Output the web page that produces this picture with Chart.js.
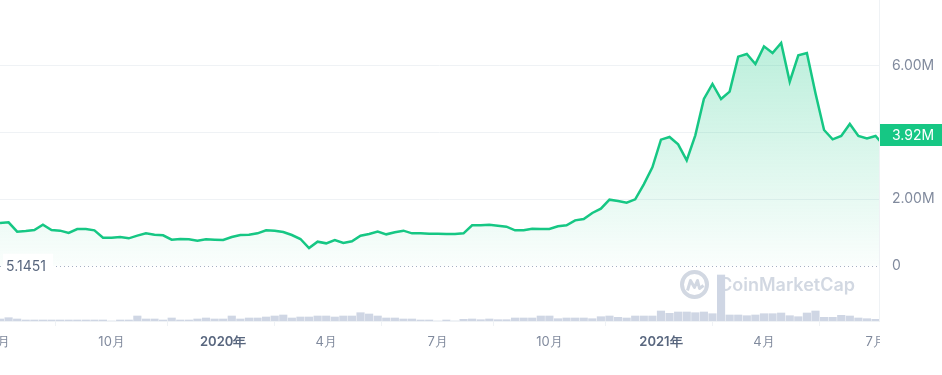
<!DOCTYPE html>
<html>
<head>
<meta charset="utf-8">
<script src="https://cdn.jsdelivr.net/npm/chart.js@4.4.0/dist/chart.umd.min.js"></script>
<style>
  html, body { margin: 0; padding: 0; background: #fff; }
</style>
</head>
<body>
<canvas id="canvas" width="942" height="375"></canvas>
<script>
// weekly price in millions, Jul 2019 -> Jul 2021
var prices = [
  1.28, 1.30, 1.02, 1.04, 1.07, 1.23, 1.07, 1.05, 0.98, 1.10,
  1.10, 1.06, 0.84, 0.84, 0.86, 0.82, 0.90, 0.97, 0.93, 0.91,
  0.78, 0.80, 0.79, 0.75, 0.79, 0.78, 0.77, 0.86, 0.92, 0.93,
  0.97, 1.06, 1.05, 1.01, 0.92, 0.80, 0.53, 0.72, 0.67, 0.77,
  0.68, 0.73, 0.90, 0.95, 1.02, 0.94, 1.00, 1.05, 0.97, 0.97,
  0.96, 0.96, 0.95, 0.95, 0.97, 1.21, 1.21, 1.23, 1.20, 1.17,
  1.06, 1.06, 1.11, 1.10, 1.10, 1.18, 1.21, 1.36, 1.40, 1.58,
  1.71, 1.98, 1.94, 1.89, 1.99, 2.44, 2.95, 3.78, 3.86, 3.64,
  3.16, 3.91, 5.00, 5.45, 5.00, 5.22, 6.27, 6.35, 6.05, 6.58,
  6.38, 6.68, 5.52, 6.31, 6.38, 5.17, 4.07, 3.79, 3.89, 4.25,
  3.89, 3.82, 3.89, 3.60
];
// weekly volume (relative units)
var volumes = [
  2, 3.3, 2, 1, 1, 1, 1, 1, 1, 1,
  1, 1, 1, 0, 1, 1, 5, 2, 2, 1,
  3, 1, 1, 2, 3, 2, 2, 5, 2, 3,
  3, 4, 5, 6, 3, 4, 4, 5, 5, 4,
  5, 5, 8.3, 7, 5, 3, 3, 2, 2, 1,
  1, 0, 1, 0, 1.7, 2, 1.3, 2, 1.3, 1.3,
  3, 3, 3, 5, 5, 2.3, 3, 3, 3, 2.3,
  4.3, 5, 3.7, 3, 5, 5, 5, 10, 7.7, 9,
  9, 8.3, 9, 7.3, 46, 6, 6, 5.3, 6, 7.3,
  7.3, 8, 5.3, 4.3, 8, 10, 3.7, 3.7, 5.7, 5,
  3, 2.3, 1.7, 1
];
var tickIdx = [0, 13, 26, 38, 51, 64, 77, 89, 102];
var tickLabels = ['7月', '10月', '2020年', '4月', '7月', '10月', '2021年', '4月', '7月'];
var yTicks = [0, 2, 4, 6];
var lastPrice = 3.92;
var lowLabel = '5.1451';

var green = '#16c784';
var faint = '#eff2f5';

var lineData = prices.map(function(v, i) { return { x: i, y: v }; });
var volData = volumes.map(function(v, i) { return { x: i, y: v }; });

function isYear(ctx) {
  var lbl = ctx && ctx.tick && ctx.tick.label;
  return typeof lbl === 'string' && lbl.indexOf('年') >= 0;
}

function areaFill(context) {
  var chart = context.chart, a = chart.chartArea;
  if (!a) return 'rgba(22,199,132,0.1)';
  var g = chart.ctx.createLinearGradient(0, a.top, 0, chart.scales.y.getPixelForValue(0));
  g.addColorStop(0, 'rgba(22,199,132,0.34)');
  g.addColorStop(1, 'rgba(22,199,132,0.02)');
  return g;
}

var extras = {
  id: 'extras',
  beforeDatasetsDraw: function(chart) {
    var c = chart.ctx, a = chart.chartArea;
    var y0 = Math.round(chart.scales.y.getPixelForValue(0)) + 0.5;
    c.save();
    // dotted zero line
    c.strokeStyle = '#a6b0c3';
    c.lineWidth = 1;
    c.setLineDash([1, 3]);
    c.beginPath();
    c.moveTo(a.left, y0);
    c.lineTo(a.right, y0);
    c.stroke();
    c.setLineDash([]);
    // watermark
    var wm = '#d2d8e2';
    var cx = 694.5, cy = 284.5;
    c.strokeStyle = wm;
    c.lineWidth = 4;
    c.beginPath();
    c.arc(cx, cy, 12.5, 0, Math.PI * 2);
    c.stroke();
    c.lineWidth = 3;
    c.lineJoin = 'round';
    c.beginPath();
    c.moveTo(cx - 7, cy + 6);
    c.lineTo(cx - 4, cy - 4);
    c.lineTo(cx, cy + 3);
    c.lineTo(cx + 3, cy - 4);
    c.lineTo(cx + 5, cy + 4);
    c.lineTo(cx + 9, cy + 1);
    c.stroke();
    c.fillStyle = wm;
    c.font = '600 18px Inter';
    var w = c.measureText('CoinMarketCap').width;
    c.font = '600 ' + (18 * 136 / w).toFixed(2) + 'px Inter';
    c.textBaseline = 'alphabetic';
    c.textAlign = 'left';
    c.fillText('CoinMarketCap', 719, 291);
    c.restore();
  },
  afterDraw: function(chart) {
    var c = chart.ctx, a = chart.chartArea, ys = chart.scales.y;
    c.save();
    // clip x labels past the chart area
    c.fillStyle = '#fff';
    c.fillRect(a.right + 1, a.bottom + 2, chart.width - a.right, chart.height - a.bottom);
    // current price badge
    var py = ys.getPixelForValue(lastPrice);
    c.fillStyle = green;
    c.fillRect(a.right + 1, py - 11, chart.width - a.right, 22);
    c.fillStyle = '#fff';
    c.font = '14px Inter';
    c.textBaseline = 'middle';
    c.textAlign = 'left';
    c.fillText(lastPrice.toFixed(2) + 'M', a.right + 13, py + 1);
    // low label on the zero line
    var y0 = ys.getPixelForValue(0);
    c.fillStyle = '#fff';
    c.fillRect(3, y0 - 12, 50, 22);
    c.fillStyle = '#58667e';
    c.font = '14px Inter';
    c.fillText(lowLabel, 6, y0 + 1);
    c.restore();
  }
};

Chart.defaults.font.family = 'Inter, sans-serif';

new Chart(document.getElementById('canvas').getContext('2d'), {
  type: 'line',
  data: {
    datasets: [{
      type: 'line',
      data: lineData,
      borderColor: green,
      borderWidth: 2.5,
      pointRadius: 0,
      tension: 0,
      fill: 'origin',
      backgroundColor: areaFill,
      yAxisID: 'y',
      order: 1
    }, {
      type: 'bar',
      data: volData,
      backgroundColor: '#cfd6e4',
      barThickness: 7.5,
      yAxisID: 'yv',
      order: 2
    }]
  },
  options: {
    responsive: false,
    animation: false,
    layout: { padding: 0 },
    plugins: {
      legend: { display: false },
      tooltip: { enabled: false }
    },
    scales: {
      x: {
        type: 'linear',
        min: 0,
        max: 102.4,
        offset: false,
        afterBuildTicks: function(s) {
          s.ticks = tickIdx.map(function(v) { return { value: v }; });
        },
        afterFit: function(s) {
          s.paddingLeft = 0;
          s.paddingRight = 0;
          s.height = 54;
        },
        ticks: {
          autoSkip: false,
          maxRotation: 0,
          padding: 8,
          callback: function(v, i) { return tickLabels[i]; },
          color: function(ctx) { return isYear(ctx) ? '#58667e' : '#808a9d'; },
          font: function(ctx) {
            return { size: 13, weight: isYear(ctx) ? '600' : '400' };
          }
        },
        grid: { display: true, drawOnChartArea: false, drawTicks: true, tickLength: 5, color: faint },
        border: { display: true, color: faint }
      },
      y: {
        position: 'right',
        min: -1.66,
        max: 7.97,
        afterBuildTicks: function(s) {
          s.ticks = yTicks.map(function(v) { return { value: v }; });
        },
        afterFit: function(s) {
          s.width = 63;
          s.paddingTop = 0;
          s.paddingBottom = 0;
        },
        ticks: {
          padding: 13,
          color: '#808a9d',
          font: { size: 14 },
          callback: function(v) { return v === 0 ? '0' : v.toFixed(2) + 'M'; }
        },
        grid: {
          drawTicks: false,
          color: function(ctx) {
            return ctx.tick && ctx.tick.value === 0 ? 'rgba(0,0,0,0)' : faint;
          }
        },
        border: { display: true, color: faint }
      },
      yv: {
        display: false,
        min: 0,
        max: 321
      }
    }
  },
  plugins: [extras]
});
</script>
</body>
</html>
